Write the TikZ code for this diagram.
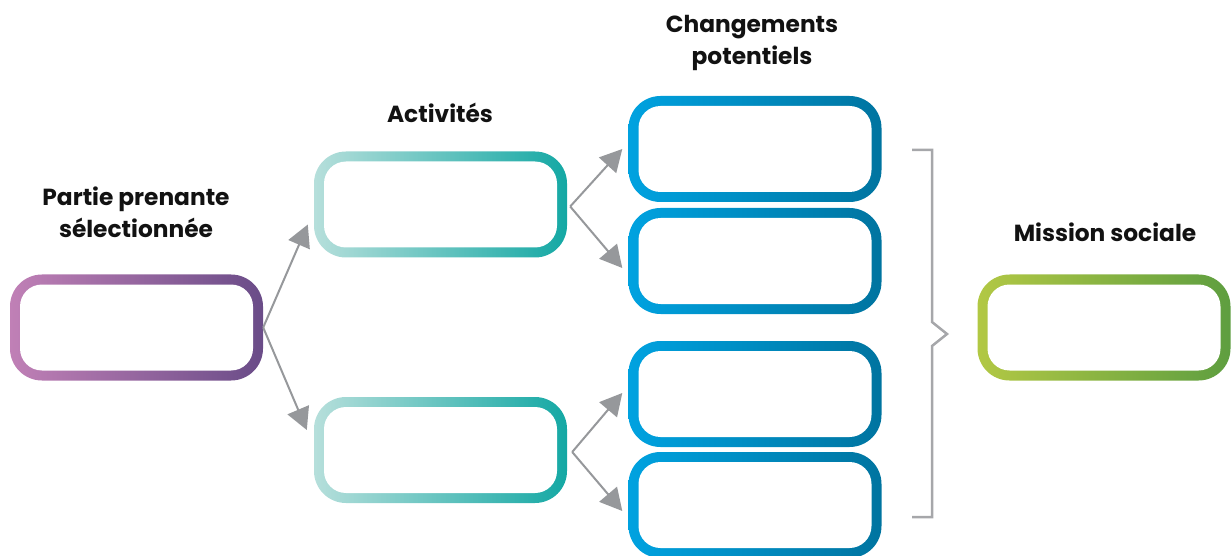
\documentclass[tikz,border=0pt]{standalone}
\usepackage{fontspec}
\setmainfont{Poppins}
\usetikzlibrary{arrows.meta, calc, positioning}
\definecolor{stakeL}{RGB}{192,128,182}
\definecolor{stakeR}{RGB}{106,76,136}
\definecolor{actL}{RGB}{182,223,219}
\definecolor{actR}{RGB}{20,168,164}
\definecolor{chgL}{RGB}{0,162,224}
\definecolor{chgR}{RGB}{0,116,160}
\definecolor{misL}{RGB}{178,200,68}
\definecolor{misR}{RGB}{94,158,64}
\definecolor{linkgray}{RGB}{150,152,155}

\begin{document}
\begin{tikzpicture}[x=1pt, y=-1pt]

% TikZ styles
\tikzset{
  box/.style={rectangle, rounded corners=32pt, inner sep=0pt, minimum width=253pt, minimum height=106pt,
    path picture={\fill[white, rounded corners=22pt]
      ([shift={(10pt,10pt)}]path picture bounding box.south west) rectangle
      ([shift={(-10pt,-10pt)}]path picture bounding box.north east);}},
  stakebox/.style={box, left color=stakeL, right color=stakeR},
  actbox/.style={box, left color=actL, right color=actR},
  chgbox/.style={box, left color=chgL, right color=chgR},
  misbox/.style={box, left color=misL, right color=misR},
  title/.style={font=\bfseries\fontsize{23.3}{32}\selectfont, align=center, text=black!93, inner sep=0pt},
  arrow/.style={-{Triangle[length=22pt, width=23pt]}, line width=2pt, draw=linkgray},
  bracket/.style={line width=2.5pt, draw=linkgray!85}
}

\useasboundingbox (0,0) rectangle (1232,556);

% Kästen
\node[stakebox] (stake) at (136.5,327.5) {};
\node[actbox]   (act1)  at (440.5,204.5) {};
\node[actbox]   (act2)  at (440.5,450)   {};
\node[chgbox]   (chg1)  at (755,149)     {};
\node[chgbox]   (chg2)  at (755,261)     {};
\node[chgbox]   (chg3)  at (755,394)     {};
\node[chgbox]   (chg4)  at (755,505)     {};
\node[misbox]   (mis)   at (1104,327.5)  {};

% Titel
\node[title] (stakelabel) at (136,212) {Partie prenante\\sélectionnée};
\node[title, anchor=base] (actlabel) at (440,123) {Activités};
\node[title] (chglabel) at (752,43) {Changements\\potentiels};
\node[title, anchor=base] (mislabel) at (1105,242) {Mission sociale};

% Pfeile
\coordinate (fork1) at ([shift={(3,2)}]act1.east);
\coordinate (fork2) at ([shift={(5,2)}]act2.east);

\draw[arrow] (stake.east) -- ([shift={(-6,20)}]act1.west);
\draw[arrow] (stake.east) -- ([shift={(-7,-20)}]act2.west);
\draw[arrow] (fork1) -- ([xshift=-6pt]chg1.west);
\draw[arrow] (fork1) -- ([shift={(-6,7)}]chg2.west);
\draw[arrow] (fork2) -- ([shift={(-6,-1)}]chg3.west);
\draw[arrow] (fork2) -- ([shift={(-6,6)}]chg4.west);

% Klammer
\coordinate (brtip) at (947,334);
\draw[bracket] (912,150) -- (932,150) -- (932,322) -- (brtip) -- (932,346) -- (932,517) -- (912,517);

\end{tikzpicture}
\end{document}
